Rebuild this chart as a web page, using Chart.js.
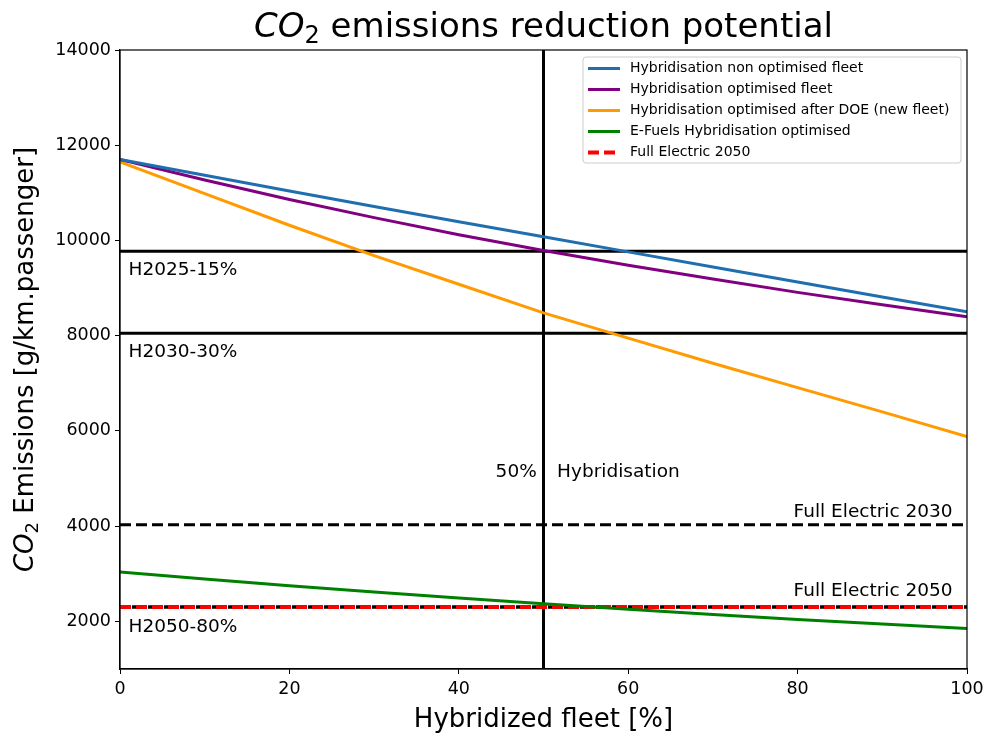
<!DOCTYPE html>
<html lang="en">
<head>
	<meta charset="UTF-8">
	<title>CO2 emissions reduction potential</title>
	<style>
	* { margin: 0; padding: 0; box-sizing: border-box; }
	body { background: #fff; }
	.chartbox { width: 989px; height: 733px; }
	</style>
</head>
<body>
	<div class="chartbox">
		<canvas id="myChart" width="989" height="733"></canvas>
	</div>

<script src="https://cdn.jsdelivr.net/npm/chart.js"></script>

<script>
// data
const fleet = [0, 10, 20, 30, 40, 50, 60, 70, 80, 90, 100];
const nonOptimised = [11700, 11370, 11040, 10715, 10395, 10080, 9760, 9442, 9126, 8812, 8500];
const optimised = [11700, 11270, 10860, 10480, 10120, 9790, 9480, 9190, 8910, 8650, 8400];
const afterDOE = [11650, 10985, 10320, 9680, 9080, 8480, 7950, 7420, 6910, 6400, 5880];
const eFuels = [3035, 2890, 2750, 2615, 2490, 2370, 2255, 2145, 2040, 1945, 1850];

const h2025 = 9775;
const h2030 = 8050;
const h2050 = 2300;
const fullElectric2030 = 4030;
const fullElectric2050 = 2300;
const hybridShare = 50;

const xTicks = [0, 20, 40, 60, 80, 100];
const yTicks = [2000, 4000, 6000, 8000, 10000, 12000, 14000];

const notes = [
	{ text: 'H2025-15%', x: 1, y: 9380, align: 'left' },
	{ text: 'H2030-30%', x: 1, y: 7660, align: 'left' },
	{ text: 'H2050-80%', x: 1, y: 1880, align: 'left' },
	{ text: '50%', x: 49.2, y: 5140, align: 'right' },
	{ text: 'Hybridisation', x: 51.6, y: 5140, align: 'left' },
	{ text: 'Full Electric 2030', x: 98.3, y: 4300, align: 'right' },
	{ text: 'Full Electric 2050', x: 98.3, y: 2630, align: 'right' }
];

const FONT = '"DejaVu Sans", sans-serif';

function pts(arr) {
	return fleet.map((x, i) => ({ x: x, y: arr[i] }));
}
function hline(v) {
	return [{ x: 0, y: v }, { x: 100, y: v }];
}

// draws text made of pieces (for the CO2 subscript)
function drawParts(ctx, parts, x, y) {
	let total = 0;
	parts.forEach(p => { ctx.font = p.font; total += ctx.measureText(p.text).width; });
	let cx = x - total / 2;
	ctx.textAlign = 'left';
	ctx.textBaseline = 'alphabetic';
	parts.forEach(p => {
		ctx.font = p.font;
		ctx.fillText(p.text, cx, y + (p.dy || 0));
		cx += ctx.measureText(p.text).width;
	});
}

const decor = {
	id: 'decor',
	afterDatasetsDraw(chart) {
		const { ctx, chartArea: a, scales: { x, y } } = chart;
		ctx.save();
		// frame
		ctx.strokeStyle = '#000';
		ctx.lineWidth = 1.2;
		ctx.strokeRect(a.left, a.top, a.right - a.left, a.bottom - a.top);

		// annotations
		ctx.fillStyle = '#000';
		ctx.font = '18.5px ' + FONT;
		ctx.textBaseline = 'middle';
		notes.forEach(n => {
			ctx.textAlign = n.align;
			ctx.fillText(n.text, x.getPixelForValue(n.x), y.getPixelForValue(n.y));
		});

		// legend
		const items = chart.data.datasets.filter(d => d.label);
		const lx = 583, ly = 57, lw = 378, lh = 106;
		ctx.fillStyle = 'rgba(255,255,255,0.8)';
		ctx.strokeStyle = '#cccccc';
		ctx.lineWidth = 1;
		ctx.beginPath();
		ctx.roundRect(lx, ly, lw, lh, 3);
		ctx.fill();
		ctx.stroke();
		ctx.font = '14px ' + FONT;
		ctx.textAlign = 'left';
		ctx.textBaseline = 'middle';
		items.forEach((d, i) => {
			const yy = ly + 11.5 + i * 21;
			ctx.strokeStyle = d.borderColor;
			ctx.lineWidth = d.borderWidth;
			ctx.setLineDash(d.borderDash || []);
			ctx.beginPath();
			ctx.moveTo(588, yy);
			ctx.lineTo(620, yy);
			ctx.stroke();
			ctx.setLineDash([]);
			ctx.fillStyle = '#000';
			ctx.fillText(d.label, 630, yy);
		});
		ctx.restore();
	},
	afterDraw(chart) {
		const { ctx, chartArea: a } = chart;
		const cx = (a.left + a.right) / 2;
		const cy = (a.top + a.bottom) / 2;
		ctx.save();
		ctx.fillStyle = '#000';
		// title
		drawParts(ctx, [
			{ text: 'CO', font: 'italic 34px ' + FONT },
			{ text: '2', font: '24px ' + FONT, dy: 6 },
			{ text: ' emissions reduction potential', font: '34px ' + FONT }
		], cx, 37);
		// x title
		drawParts(ctx, [{ text: 'Hybridized fleet [%]', font: '26px ' + FONT }], cx, 727);
		// y title
		ctx.translate(33, cy);
		ctx.rotate(-Math.PI / 2);
		drawParts(ctx, [
			{ text: 'CO', font: 'italic 26px ' + FONT },
			{ text: '2', font: '18px ' + FONT, dy: 5 },
			{ text: ' Emissions [g/km.passenger]', font: '26px ' + FONT }
		], 0, 0);
		ctx.restore();
	}
};

const data = {
	datasets: [
		{ label: 'Hybridisation non optimised fleet', data: pts(nonOptimised), borderColor: '#1f6fb0', borderWidth: 3 },
		{ label: 'Hybridisation optimised fleet', data: pts(optimised), borderColor: '#800080', borderWidth: 3 },
		{ label: 'Hybridisation optimised after DOE (new fleet)', data: pts(afterDOE), borderColor: '#ff9a00', borderWidth: 3 },
		{ label: 'E-Fuels Hybridisation optimised', data: pts(eFuels), borderColor: '#008000', borderWidth: 3 },
		{ label: 'Full Electric 2050', data: hline(fullElectric2050), borderColor: '#ff0000', borderWidth: 4, borderDash: [11, 5] },
		{ data: hline(fullElectric2050), borderColor: '#000', borderWidth: 3, borderDash: [11, 5], borderDashOffset: 4 },
		{ data: hline(fullElectric2030), borderColor: '#000', borderWidth: 3, borderDash: [11, 5] },
		{ data: hline(h2025), borderColor: '#000', borderWidth: 3 },
		{ data: hline(h2030), borderColor: '#000', borderWidth: 3 },
		{ data: hline(h2050), borderColor: '#000', borderWidth: 3, borderDash: [11, 5], borderDashOffset: 4 },
		{ data: [{ x: hybridShare, y: 1000 }, { x: hybridShare, y: 14000 }], borderColor: '#000', borderWidth: 3 }
	]
};
data.datasets.forEach(d => { d.pointRadius = 0; d.fill = false; d.tension = 0; });

const tickFont = { family: FONT, size: 17.5 };

const config = {
	type: 'line',
	data,
	options: {
		responsive: false,
		animation: false,
		layout: { padding: { top: 50, right: 22, left: 0, bottom: 0 } },
		plugins: {
			legend: { display: false },
			tooltip: { enabled: false }
		},
		scales: {
			x: {
				type: 'linear',
				min: 0,
				max: 100,
				afterBuildTicks: s => { s.ticks = xTicks.map(v => ({ value: v })); },
				afterFit: s => { s.height = 64; },
				ticks: { color: '#000', font: tickFont, padding: 5, maxRotation: 0, callback: v => String(v) },
				grid: { drawOnChartArea: false, color: '#000', tickLength: 5 },
				border: { color: '#000', width: 1.2 }
			},
			y: {
				min: 1000,
				max: 14000,
				afterBuildTicks: s => { s.ticks = yTicks.map(v => ({ value: v })); },
				afterFit: s => { s.width = 120; },
				ticks: { color: '#000', font: tickFont, padding: 4, callback: v => String(v) },
				grid: { drawOnChartArea: false, color: '#000', tickLength: 5 },
				border: { color: '#000', width: 1.2 }
			}
		}
	},
	plugins: [decor]
};

const myChart = new Chart(document.getElementById('myChart'), config);
</script>
</body>
</html>
